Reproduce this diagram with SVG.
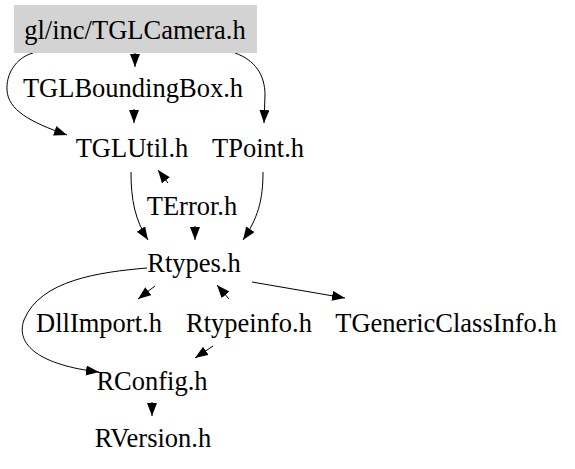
<svg xmlns="http://www.w3.org/2000/svg" width="575" height="469" viewBox="0 0 575 469">
<style>
text{font-family:"Liberation Serif","Times New Roman",serif;font-size:26.5px;fill:#000;text-anchor:middle}
.e{fill:none;stroke:#000;stroke-width:1}
</style>
<defs>
<marker id="ah" markerWidth="13" markerHeight="11" refX="13" refY="5" orient="auto" markerUnits="userSpaceOnUse">
<path d="M0,0 L13,5 L0,10 z" fill="#000"/>
</marker>
</defs>
<rect width="575" height="469" fill="#fff"/>
<g id="edges">
<path class="e" marker-end="url(#ah)" d="M135,53 L135,67"/>
<path class="e" marker-end="url(#ah)" d="M134,109 L134,123"/>
<path class="e" marker-end="url(#ah)" d="M33,53 C15,58 6,75 7,90 C8,110 30,122 67,135"/>
<path class="e" marker-end="url(#ah)" d="M235,53 C255,60 265,75 265,95 L264,123"/>
<path class="e" marker-end="url(#ah)" d="M168,183 L158,170"/>
<path class="e" marker-end="url(#ah)" d="M131,172 C131,200 135,220 148,240"/>
<path class="e" marker-end="url(#ah)" d="M195,226 L195,240"/>
<path class="e" marker-end="url(#ah)" d="M263,172 C263,200 258,218 243,240"/>
<path class="e" marker-end="url(#ah)" d="M155,286 L138,299"/>
<path class="e" marker-end="url(#ah)" d="M229,299 L217,285"/>
<path class="e" marker-end="url(#ah)" d="M252,282 L345,298"/>
<path class="e" marker-end="url(#ah)" d="M147,268 C100,272 40,280 24,320 C15,345 40,365 99,372"/>
<path class="e" marker-end="url(#ah)" d="M213,346 L195,358"/>
<path class="e" marker-end="url(#ah)" d="M152,402 L152,416"/>
</g>
<g id="n_camera"><rect x="14" y="5" width="243" height="48" fill="#d3d3d3"/><text x="135" y="39">gl/inc/TGLCamera.h</text></g>
<g id="n_bbox"><text x="133" y="97">TGLBoundingBox.h</text></g>
<g id="n_util"><text x="132" y="157">TGLUtil.h</text></g>
<g id="n_point"><text x="258" y="157">TPoint.h</text></g>
<g id="n_error"><text x="192" y="215">TError.h</text></g>
<g id="n_rtypes"><text x="194" y="272">Rtypes.h</text></g>
<g id="n_dll"><text x="99" y="332">DllImport.h</text></g>
<g id="n_rtypeinfo"><text x="249" y="332">Rtypeinfo.h</text></g>
<g id="n_generic"><text x="446" y="332">TGenericClassInfo.h</text></g>
<g id="n_rconfig"><text x="152" y="390">RConfig.h</text></g>
<g id="n_rversion"><text x="153" y="447">RVersion.h</text></g>
</svg>
